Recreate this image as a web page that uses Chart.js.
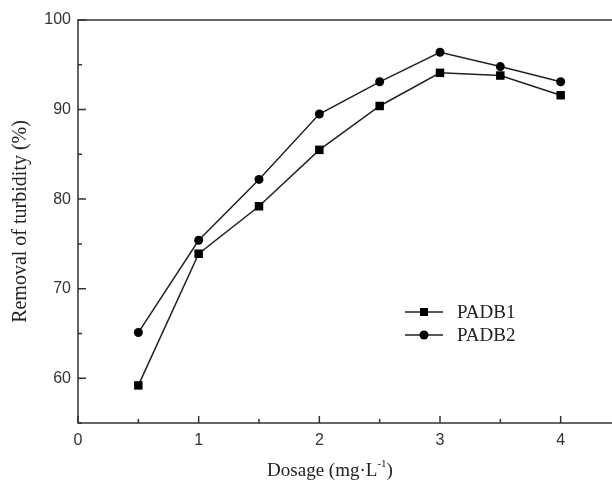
<!DOCTYPE html>
<html>
<head>
<meta charset="utf-8">
<script src="https://cdn.jsdelivr.net/npm/chart.js@4.4.0/dist/chart.umd.min.js"></script>
<style>
  html, body { margin: 0; padding: 0; background: #fff; overflow: hidden; }
  #wrap { width: 630px; height: 480px; }
</style>
</head>
<body>
<div id="wrap"><canvas id="chart"></canvas></div>
<script>
// values
const dosage = [0.5, 1, 1.5, 2, 2.5, 3, 3.5, 4];
const padb1 = [59.2, 73.9, 79.2, 85.5, 90.4, 94.1, 93.8, 91.6];
const padb2 = [65.1, 75.4, 82.2, 89.5, 93.1, 96.4, 94.8, 93.1];
const xTicks = [0, 1, 2, 3, 4];
const yTicks = [60, 70, 80, 90, 100];

const SERIF = '"Liberation Serif", "Times New Roman", serif';
const SANS = '"Liberation Sans", Arial, sans-serif';
const INK = '#222';

function toPoints(ys) {
  return dosage.map((x, i) => ({ x: x, y: ys[i] }));
}

// frame, inward ticks, legend and x title
const framePlugin = {
  id: 'frame',
  afterDraw(chart) {
    const { ctx, chartArea: a, scales } = chart;
    const x = scales.x, y = scales.y;
    ctx.save();
    ctx.strokeStyle = '#333';
    ctx.lineWidth = 1.5;
    ctx.strokeRect(a.left, a.top, a.right - a.left, a.bottom - a.top);

    ctx.beginPath();
    x.ticks.forEach(t => {
      const px = x.getPixelForValue(t.value);
      const len = xTicks.includes(t.value) ? 7 : 4;
      ctx.moveTo(px, a.bottom);
      ctx.lineTo(px, a.bottom - len);
    });
    y.ticks.forEach(t => {
      const py = y.getPixelForValue(t.value);
      const len = yTicks.includes(t.value) ? 8 : 4;
      ctx.moveTo(a.left, py);
      ctx.lineTo(a.left + len, py);
    });
    ctx.stroke();

    // legend
    const lx = a.left + 327, ly = a.top + 292;
    chart.data.datasets.forEach((ds, i) => {
      const yy = ly + i * 23;
      ctx.strokeStyle = INK;
      ctx.lineWidth = 1.5;
      ctx.beginPath();
      ctx.moveTo(lx, yy);
      ctx.lineTo(lx + 38, yy);
      ctx.stroke();
      ctx.fillStyle = '#000';
      const cx = lx + 19;
      if (ds.pointStyle === 'rect') {
        ctx.fillRect(cx - 4, yy - 4, 8, 8);
      } else {
        ctx.beginPath();
        ctx.arc(cx, yy, 4.5, 0, Math.PI * 2);
        ctx.fill();
      }
      ctx.fillStyle = INK;
      ctx.font = '19px ' + SERIF;
      ctx.textBaseline = 'middle';
      ctx.textAlign = 'left';
      ctx.fillText(ds.label, lx + 52, yy + 1);
    });

    // x axis title with superscript
    const tx = a.left + 252, ty = 470;
    const main = 'Dosage (mg\u00B7L', sup = '-1', tail = ')';
    ctx.font = '19px ' + SERIF;
    const w1 = ctx.measureText(main).width, w3 = ctx.measureText(tail).width;
    ctx.font = '11px ' + SERIF;
    const w2 = ctx.measureText(sup).width;
    let sx = tx - (w1 + w2 + w3) / 2;
    ctx.textAlign = 'left';
    ctx.textBaseline = 'alphabetic';
    ctx.fillStyle = INK;
    ctx.font = '19px ' + SERIF;
    ctx.fillText(main, sx, ty + 6);
    ctx.font = '11px ' + SERIF;
    ctx.fillText(sup, sx + w1, ty - 3);
    ctx.font = '19px ' + SERIF;
    ctx.fillText(tail, sx + w1 + w2, ty + 6);
    ctx.restore();
  }
};

new Chart(document.getElementById('chart'), {
  type: 'line',
  data: {
    datasets: [{
      label: 'PADB1',
      data: toPoints(padb1),
      borderColor: INK,
      backgroundColor: '#000',
      borderWidth: 1.5,
      pointStyle: 'rect',
      pointRadius: 6,
      pointBorderWidth: 0,
      fill: false,
      tension: 0
    }, {
      label: 'PADB2',
      data: toPoints(padb2),
      borderColor: INK,
      backgroundColor: '#000',
      borderWidth: 1.5,
      pointStyle: 'circle',
      pointRadius: 4.5,
      pointBorderWidth: 0,
      fill: false,
      tension: 0
    }]
  },
  options: {
    responsive: true,
    maintainAspectRatio: false,
    animation: false,
    layout: { padding: { top: 20, right: 9, left: 0, bottom: 0 } },
    plugins: { legend: { display: false }, tooltip: { enabled: false } },
    scales: {
      x: {
        type: 'linear',
        min: 0,
        max: 4.5,
        grid: { display: false, drawTicks: false },
        border: { display: false },
        ticks: {
          stepSize: 0.5,
          autoSkip: false,
          maxRotation: 0,
          padding: 8,
          color: '#333',
          font: { family: SANS, size: 16 },
          callback: v => xTicks.includes(v) ? String(v) : ''
        },
        afterFit: s => { s.height = 57; }
      },
      y: {
        min: 55,
        max: 100,
        grid: { display: false, drawTicks: false },
        border: { display: false },
        ticks: {
          stepSize: 5,
          autoSkip: false,
          padding: 7,
          color: '#333',
          font: { family: SANS, size: 16 },
          callback: v => yTicks.includes(v) ? String(v) : ''
        },
        title: {
          display: true,
          text: 'Removal of turbidity (%)',
          color: INK,
          font: { family: SERIF, size: 20, weight: 'normal' },
          padding: { top: 9, bottom: 0 }
        },
        afterFit: s => { s.width = 78; }
      }
    }
  },
  plugins: [framePlugin]
});
</script>
</body>
</html>
